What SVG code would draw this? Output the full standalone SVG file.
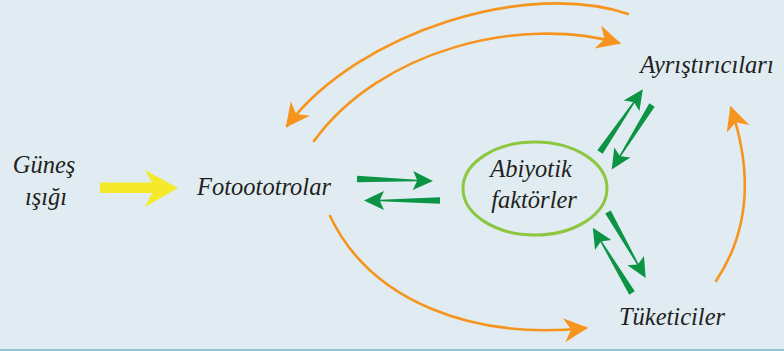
<svg xmlns="http://www.w3.org/2000/svg" width="784" height="351" viewBox="0 0 784 351">
<defs>
<style>
.lbl{font-family:"Liberation Serif","Times New Roman",serif;font-style:italic;font-size:24.5px;fill:#231f20;text-anchor:middle}
.orange{fill:none;stroke:#f7941d;stroke-width:2.6;stroke-linecap:round}
.green{fill:#0a9444}
</style>
<marker id="oh" markerUnits="userSpaceOnUse" markerWidth="30" markerHeight="30" viewBox="-26 -14 30 28" refX="0" refY="0" orient="auto">
<path d="M2,0 L-22,-12 L-15,0 L-22,12 Z" fill="#f7941d"/>
</marker>
<path id="ga" class="green" d="M0,-3.2 L60,-0.8 L56,-9.5 L76,0 L56,9.5 L60,0.8 L0,3.2 Z"/>
</defs>
<rect width="784" height="351" fill="#e0ecf2"/>
<line x1="0" y1="350" x2="784" y2="350" stroke="#93c6d6" stroke-width="2"/>

<g id="connectors">
<path class="orange" d="M628,14 C530,-20 360,30 287,126" marker-end="url(#oh)"/>
<path class="orange" d="M314,141 C380,50 520,15 619,43" marker-end="url(#oh)"/>
<path class="orange" d="M330,216 C370,300 470,340 586,328" marker-end="url(#oh)"/>
<path class="orange" d="M716,281 C750,230 752,170 731,108" marker-end="url(#oh)"/>
<polygon fill="#f4e92a" points="100,182.5 152,182.5 145,170 178,188 145,207 152,193 100,193"/>
<use href="#ga" transform="translate(357,179) rotate(1.5)"/>
<use href="#ga" transform="translate(440,200.5) rotate(180)"/>
<use href="#ga" transform="translate(600,152) rotate(-55.7)"/>
<use href="#ga" transform="translate(652,105) rotate(122)"/>
<use href="#ga" transform="translate(608,212) rotate(60.3)"/>
<use href="#ga" transform="translate(632,293) rotate(-121)"/>
</g>

<g id="gunes">
<text class="lbl" x="44" y="173">Güneş</text>
<text class="lbl" x="46" y="205">ışığı</text>
</g>
<g id="fotootorolar">
<text class="lbl" x="264" y="195">Fotoototrolar</text>
</g>
<g id="abiyotik">
<ellipse cx="535" cy="188.5" rx="72" ry="46.5" fill="none" stroke="#8dc63f" stroke-width="3"/>
<text class="lbl" x="531" y="177">Abiyotik</text>
<text class="lbl" x="534" y="208">faktörler</text>
</g>
<g id="ayristiricilar">
<text class="lbl" x="707" y="73">Ayrıştırıcıları</text>
</g>
<g id="tuketiciler">
<text class="lbl" x="672" y="325">Tüketiciler</text>
</g>
</svg>
